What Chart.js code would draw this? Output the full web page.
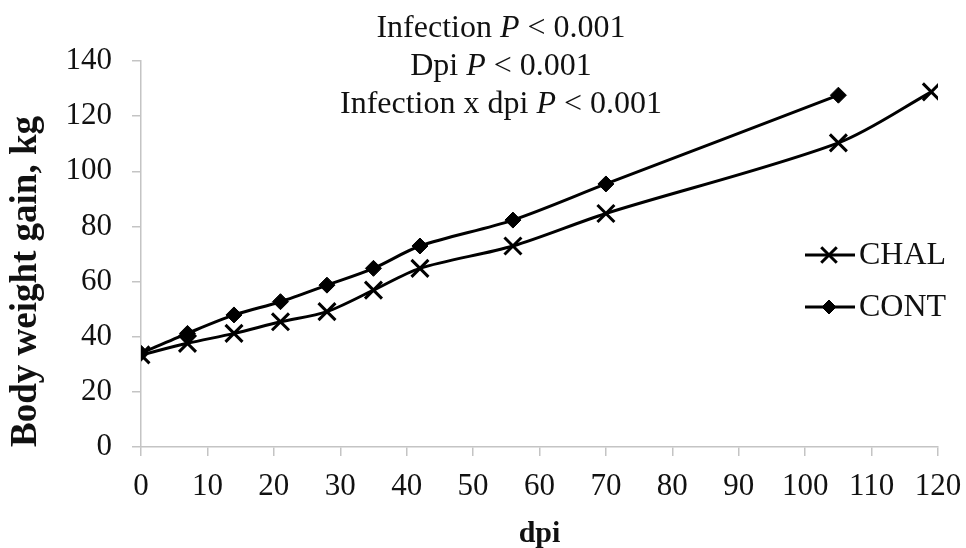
<!DOCTYPE html>
<html>
<head>
<meta charset="utf-8">
<script src="https://cdn.jsdelivr.net/npm/chart.js@4.4.1/dist/chart.umd.min.js"></script>
<style>
  html, body { margin: 0; padding: 0; background: #fff; }
  #wrap { width: 966px; height: 548px; }
</style>
</head>
<body>
<div id="wrap"><canvas id="myChart" width="966" height="548"></canvas></div>
<script>
// data
const dpiChal = [0, 7, 14, 21, 28, 35, 42, 56, 70, 105, 119];
const gainChal = [33.4, 37.6, 41.2, 45.4, 49.1, 56.9, 64.8, 72.9, 84.7, 110.3, 128.8];
const dpiCont = [0, 7, 14, 21, 28, 35, 42, 56, 70, 105];
const gainCont = [34, 41.2, 47.9, 52.7, 58.7, 64.8, 72.9, 82.3, 95.4, 127.6];
const titleLines = [
  ["Infection ", "P", " < 0.001"],
  ["Dpi ", "P", " < 0.001"],
  ["Infection x dpi ", "P", " < 0.001"],
];
const seriesNames = ["CHAL", "CONT"];

const serif = "'Liberation Serif', 'Times New Roman', serif";
const axisGrey = "#c4c4c4";

const toPoints = (xs, ys) => xs.map((x, i) => ({ x: x, y: ys[i] }));

// title + legend drawn on top, like the original figure
const overlay = {
  id: "overlay",
  afterDraw(chart) {
    const ctx = chart.ctx;
    ctx.save();
    ctx.fillStyle = "#111";
    ctx.textBaseline = "alphabetic";
    const baselines = [37, 75, 113];
    titleLines.forEach((parts, i) => {
      const fonts = ["32px " + serif, "italic 32px " + serif, "32px " + serif];
      let w = 0;
      parts.forEach((p, j) => { ctx.font = fonts[j]; w += ctx.measureText(p).width; });
      let x = 501 - w / 2;
      parts.forEach((p, j) => {
        ctx.font = fonts[j];
        ctx.textAlign = "left";
        ctx.fillText(p, x, baselines[i]);
        x += ctx.measureText(p).width;
      });
    });

    // legend
    const rows = [255, 307];
    chart.data.datasets.forEach((ds, i) => {
      const y = rows[i];
      ctx.strokeStyle = "#000";
      ctx.lineWidth = 3;
      ctx.beginPath();
      ctx.moveTo(805, y);
      ctx.lineTo(855, y);
      ctx.stroke();
      ctx.fillStyle = "#000";
      ctx.lineWidth = ds.pointBorderWidth;
      Chart.helpers.drawPoint(ctx, {
        pointStyle: ds.pointStyle,
        radius: ds.pointRadius - 1,
        borderWidth: ds.pointBorderWidth,
      }, 829, y);
      if (ds.pointStyle === "rectRot") ctx.fill();
      ctx.fillStyle = "#111";
      ctx.font = "32px " + serif;
      ctx.textAlign = "left";
      ctx.textBaseline = "middle";
      ctx.fillText(seriesNames[i], 859, y + 1);
    });
    ctx.restore();
  },
};

const grafica = document.getElementById("myChart").getContext("2d");

new Chart(grafica, {
  type: "line",
  data: {
    datasets: [
      {
        label: seriesNames[0],
        data: toPoints(dpiChal, gainChal),
        borderColor: "#000",
        backgroundColor: "#000",
        borderWidth: 3,
        tension: 0.3,
        pointStyle: "crossRot",
        pointRadius: 12,
        pointBorderWidth: 3,
        pointBorderColor: "#000",
        fill: false,
      },
      {
        label: seriesNames[1],
        data: toPoints(dpiCont, gainCont),
        borderColor: "#000",
        backgroundColor: "#000",
        borderWidth: 3,
        tension: 0.3,
        pointStyle: "rectRot",
        pointRadius: 8,
        pointBorderWidth: 1,
        pointBackgroundColor: "#000",
        pointBorderColor: "#000",
        fill: false,
      },
    ],
  },
  options: {
    responsive: false,
    animation: false,
    layout: { padding: { left: 0, top: 61, right: 28, bottom: 0 } },
    plugins: {
      legend: { display: false },
      tooltip: { enabled: false },
    },
    scales: {
      x: {
        type: "linear",
        min: 0,
        max: 120,
        ticks: {
          stepSize: 10,
          color: "#111",
          font: { family: serif, size: 31 },
          padding: 12,
          maxRotation: 0,
        },
        grid: { drawOnChartArea: false, drawTicks: true, tickLength: 9, color: axisGrey, lineWidth: 1.5 },
        border: { display: true, color: axisGrey, width: 1.5 },
        title: {
          display: true,
          text: "dpi",
          color: "#111",
          font: { family: serif, size: 30, weight: "bold" },
          padding: { top: 0, bottom: -4 },
        },
        afterFit(scale) {
          scale.height = 101;
          scale.paddingRight = 0;
          scale.paddingLeft = 0;
        },
      },
      y: {
        min: 0,
        max: 140,
        ticks: {
          stepSize: 20,
          color: "#111",
          font: { family: serif, size: 31 },
          padding: 20,
        },
        grid: { drawOnChartArea: false, drawTicks: true, tickLength: 9, color: axisGrey, lineWidth: 1.5 },
        border: { display: true, color: axisGrey, width: 1.5 },
        title: {
          display: true,
          text: "Body weight gain, kg",
          align: "start",
          color: "#111",
          font: { family: serif, size: 37, weight: "bold" },
          padding: { top: 4, bottom: 0 },
        },
        afterFit(scale) {
          scale.width = 141;
          scale.paddingTop = 0;
          scale.paddingBottom = 0;
        },
      },
    },
  },
  plugins: [overlay],
});
</script>
</body>
</html>
